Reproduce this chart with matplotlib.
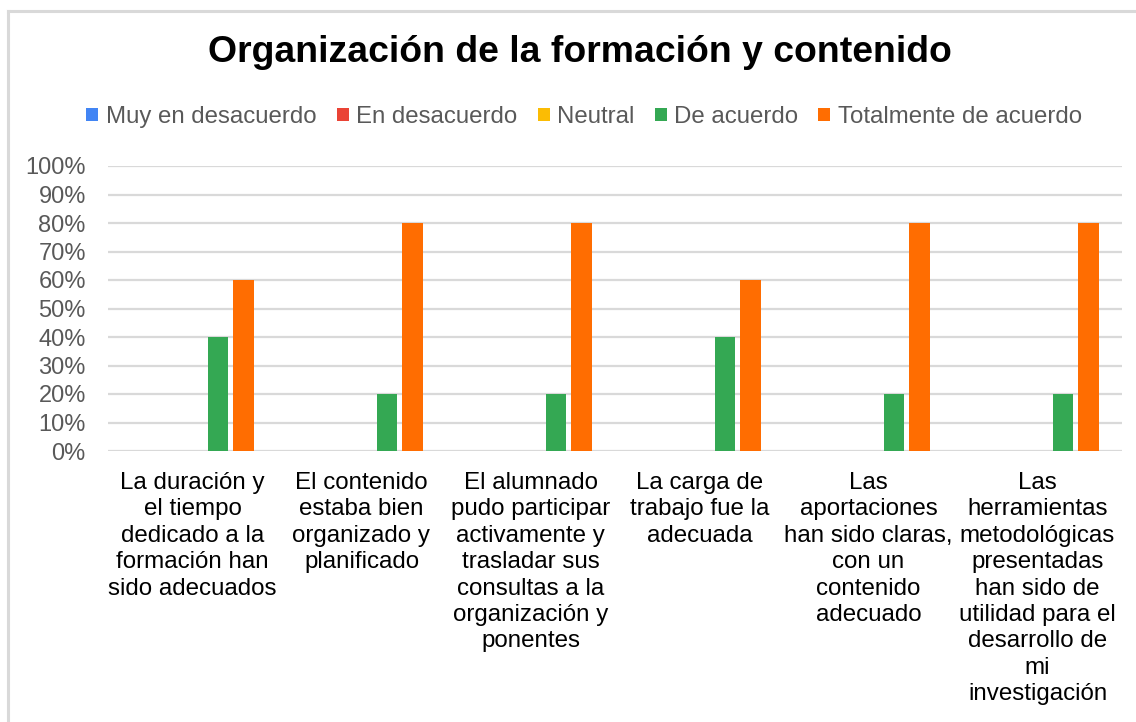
import matplotlib
matplotlib.use("Agg")
import matplotlib.pyplot as plt
from matplotlib.patches import Patch
from matplotlib.lines import Line2D
import numpy as np

plt.rcParams['font.family'] = ['Liberation Sans', 'DejaVu Sans']

categories = [
    "La duración y\nel tiempo\ndedicado a la\nformación han\nsido adecuados",
    "El contenido\nestaba bien\norganizado y\nplanificado",
    "El alumnado\npudo participar\nactivamente y\ntrasladar sus\nconsultas a la\norganización y\nponentes",
    "La carga de\ntrabajo fue la\nadecuada",
    "Las\naportaciones\nhan sido claras,\ncon un\ncontenido\nadecuado",
    "Las\nherramientas\nmetodológicas\npresentadas\nhan sido de\nutilidad para el\ndesarrollo de\nmi\ninvestigación",
]
series_names = ["Muy en desacuerdo", "En desacuerdo", "Neutral", "De acuerdo", "Totalmente de acuerdo"]
muy_en_desacuerdo = [0, 0, 0, 0, 0, 0]
en_desacuerdo = [0, 0, 0, 0, 0, 0]
neutral = [0, 0, 0, 0, 0, 0]
de_acuerdo = [40, 20, 20, 40, 20, 20]
totalmente_de_acuerdo = [60, 80, 80, 60, 80, 80]
series_values = [muy_en_desacuerdo, en_desacuerdo, neutral, de_acuerdo, totalmente_de_acuerdo]
colors = ["#4285F4", "#EA4335", "#FBBC04", "#34A853", "#FF6D01"]
yticks = [0, 10, 20, 30, 40, 50, 60, 70, 80, 90, 100]
ytick_labels = [f"{v}%" for v in yticks]

W, H = 1136, 722
fig = plt.figure(figsize=(W / 100, H / 100), dpi=100)
ax = fig.add_axes([108 / W, 1 - 451 / H, (1122 - 108) / W, (451 - 166) / H])

x = np.arange(len(categories))
step = 0.151
width = 0.124
for i, (vals, c) in enumerate(zip(series_values, colors)):
    ax.bar(x + (i - 2) * step, vals, width=width, color=c, zorder=3, linewidth=0)

ax.set_xlim(-0.5, len(categories) - 0.5)
ax.set_ylim(0, 100)
ax.set_yticks(yticks)
ax.set_yticklabels(ytick_labels)
ax.set_xticks(x)
ax.set_xticklabels(categories, linespacing=1.26)
ax.tick_params(axis='y', length=0, pad=16, labelsize=17, labelcolor="#595959")
ax.tick_params(axis='x', length=0, pad=15, labelsize=17.4, labelcolor="#000000")
ax.grid(axis='y', color="#d9d9d9", linewidth=1.6, zorder=0)
for s in ax.spines.values():
    s.set_visible(False)

fig.text(580 / W, 1 - 53 / H, "Organización de la formación y contenido",
         ha='center', va='center', fontsize=26.9, fontweight='bold', color='black')

handles = [Patch(facecolor=c, edgecolor='none', label=n) for c, n in zip(colors, series_names)]
fig.legend(handles=handles, loc='center', bbox_to_anchor=(584 / W, 1 - 117 / H), ncol=5,
           frameon=False, fontsize=17.3, labelcolor="#595959", handlelength=0.5, handleheight=0.5,
           handletextpad=0.3, columnspacing=0.85, borderaxespad=0, borderpad=0)

bx = 8 / W
by = 1 - 11 / H
fig.add_artist(Line2D([bx, bx], [0, by], transform=fig.transFigure, color="#d9d9d9", linewidth=2.2))
fig.add_artist(Line2D([bx, 1], [by, by], transform=fig.transFigure, color="#d9d9d9", linewidth=2.2))

fig.savefig("out.png", dpi=100)
